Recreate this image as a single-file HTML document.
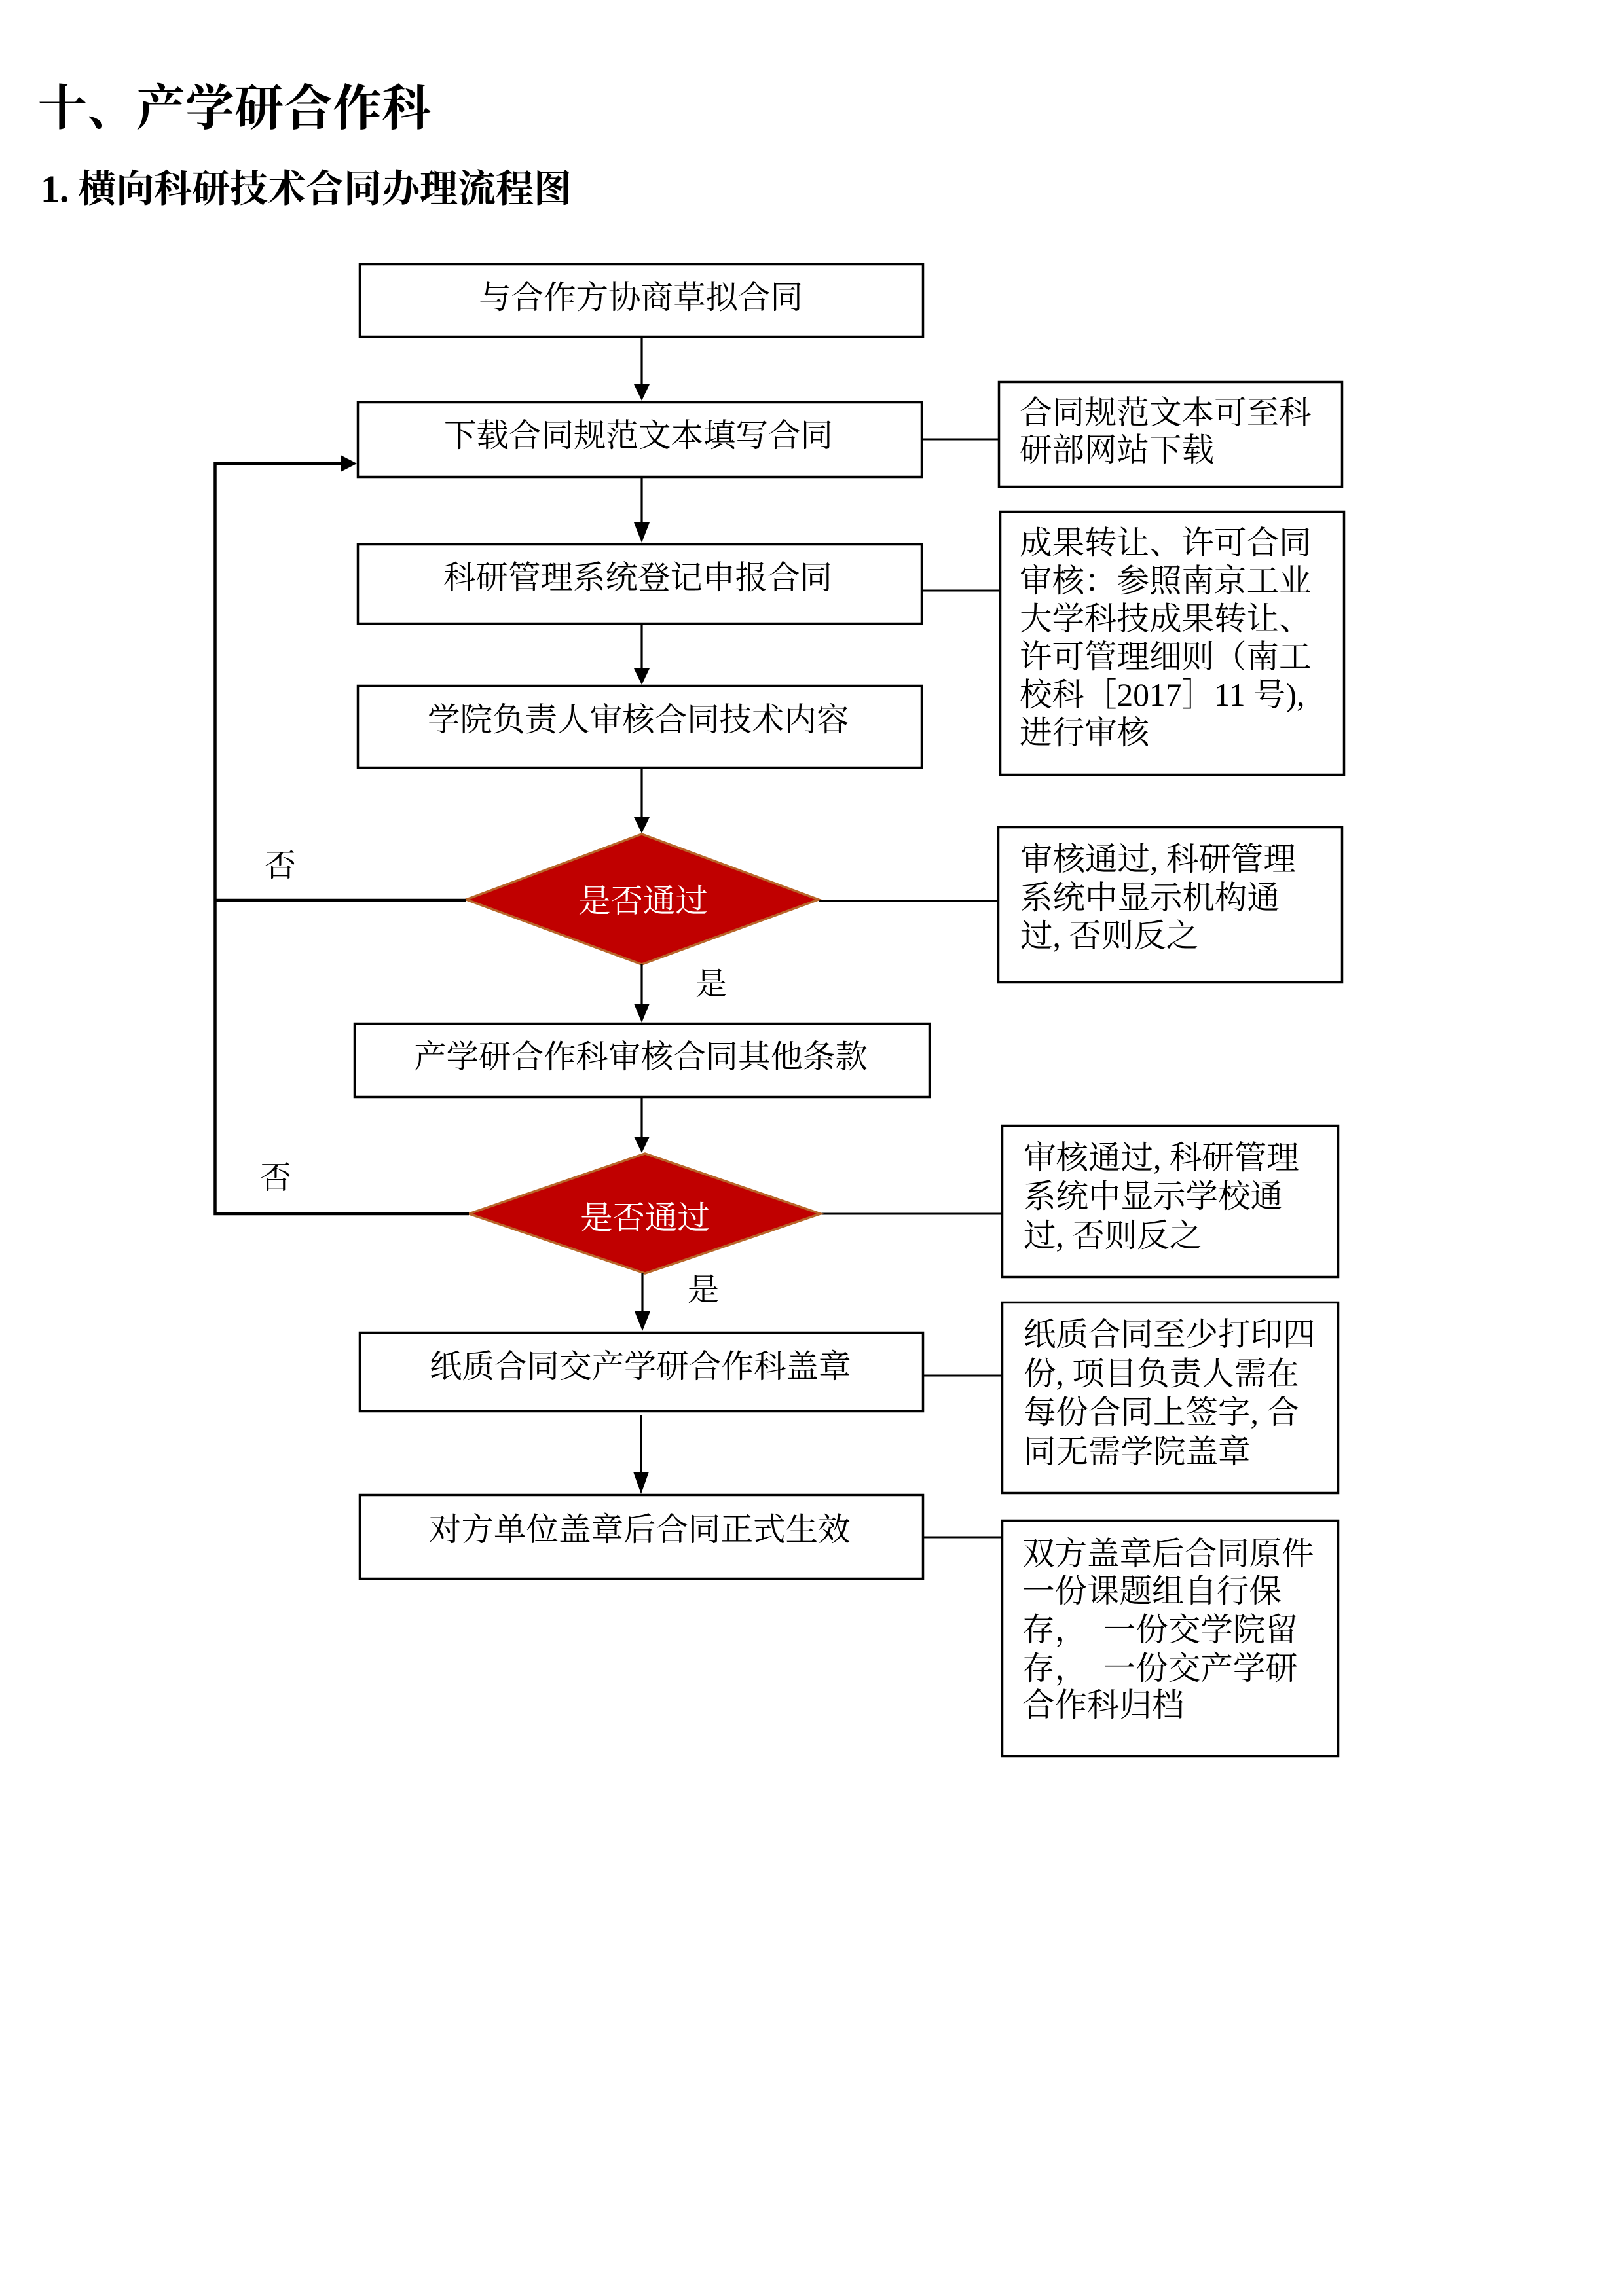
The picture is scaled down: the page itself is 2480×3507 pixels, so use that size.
<!DOCTYPE html>
<html>
<head>
<meta charset="utf-8">
<style>
  html, body { margin:0; padding:0; background:#ffffff; }
  body { width:2480px; height:3507px; overflow:hidden; }
  svg { display:block; }
  text { font-family: "Liberation Serif", "Noto Serif CJK SC", serif; fill:#000; }
</style>
</head>
<body>
<svg width="2480" height="3507" viewBox="0 0 2480 3507" xmlns="http://www.w3.org/2000/svg">
  <rect x="0" y="0" width="2480" height="3507" fill="#ffffff"/>

  <!-- Headings -->
  <text x="58" y="191" font-size="75" font-weight="700">十、产学研合作科</text>
  <text x="62" y="308" font-size="58" font-weight="700">1.</text>
  <text x="119" y="308" font-size="58" font-weight="700">横向科研技术合同办理流程图</text>

  <!-- Main boxes -->
  <g fill="#ffffff" stroke="#000" stroke-width="3.5">
    <rect x="549.5" y="403.5" width="860" height="111"/>
    <rect x="546.5" y="614.5" width="861" height="114"/>
    <rect x="546.5" y="831.5" width="861" height="121"/>
    <rect x="546.5" y="1047.5" width="861" height="125"/>
    <rect x="541.5" y="1563.5" width="878" height="112"/>
    <rect x="549.5" y="2035.5" width="860" height="120"/>
    <rect x="549.5" y="2283.5" width="860" height="128"/>
  </g>

  <!-- Side note boxes -->
  <g fill="#ffffff" stroke="#000" stroke-width="3.5">
    <rect x="1525.5" y="583.5" width="524" height="160"/>
    <rect x="1527.5" y="781.5" width="525" height="402"/>
    <rect x="1524.5" y="1263.5" width="525" height="237"/>
    <rect x="1530.5" y="1719.5" width="513" height="231"/>
    <rect x="1530.5" y="1989.5" width="513" height="291"/>
    <rect x="1530.5" y="2322.5" width="513" height="360"/>
  </g>

  <!-- Horizontal connectors to notes -->
  <g stroke="#000" stroke-width="3">
    <line x1="1409" y1="671" x2="1525" y2="671"/>
    <line x1="1409" y1="902" x2="1527" y2="902"/>
    <line x1="1250" y1="1376" x2="1524" y2="1376"/>
    <line x1="1253" y1="1854" x2="1530" y2="1854"/>
    <line x1="1411" y1="2101" x2="1530" y2="2101"/>
    <line x1="1411" y1="2348" x2="1530" y2="2348"/>
  </g>

  <!-- Diamonds -->
  <polygon points="980,1274 1250,1374 980,1473 712,1374" fill="#c00000" stroke="#b8662a" stroke-width="3.5"/>
  <polygon points="985,1762 1253,1854 985,1945 716,1854" fill="#c00000" stroke="#b8662a" stroke-width="3.5"/>

  <!-- Vertical arrows -->
  <g stroke="#000" stroke-width="3.2">
    <line x1="980" y1="516" x2="980" y2="592"/>
    <line x1="980" y1="730" x2="980" y2="805"/>
    <line x1="980" y1="954" x2="980" y2="1024"/>
    <line x1="980" y1="1174" x2="980" y2="1252"/>
    <line x1="980" y1="1473" x2="980" y2="1538"/>
    <line x1="980" y1="1677" x2="980" y2="1740"/>
    <line x1="981" y1="1945" x2="981" y2="2010"/>
    <line x1="979" y1="2161" x2="979" y2="2255"/>
  </g>
  <g fill="#000">
    <polygon points="968,587 992,587 980,612"/>
    <polygon points="968,798 992,798 980,829"/>
    <polygon points="968,1021 992,1021 980,1046"/>
    <polygon points="968,1248 992,1248 980,1273"/>
    <polygon points="968,1533 992,1533 980,1562"/>
    <polygon points="968,1736 992,1736 980,1761"/>
    <polygon points="969,2003 993,2003 981,2033"/>
    <polygon points="967,2248 991,2248 979,2282"/>
  </g>

  <!-- Loop-back lines -->
  <g stroke="#000" stroke-width="4.5" fill="none">
    <polyline points="712,1375 328.5,1375"/>
    <polyline points="716,1854 328.5,1854 328.5,708 522,708"/>
  </g>
  <polygon points="520,695 545,708 520,721" fill="#000"/>

  <!-- Main box text -->
  <g font-size="49.5">
    <text x="731" y="471">与合作方协商草拟合同</text>
    <text x="678" y="682">下载合同规范文本填写合同</text>
    <text x="677" y="899">科研管理系统登记申报合同</text>
    <text x="653" y="1116">学院负责人审核合同技术内容</text>
    <text x="632" y="1631">产学研合作科审核合同其他条款</text>
    <text x="656" y="2104">纸质合同交产学研合作科盖章</text>
    <text x="655" y="2353">对方单位盖章后合同正式生效</text>
  </g>

  <!-- Diamond text -->
  <g font-size="49.5" style="fill:#ffffff">
    <text x="883" y="1393" style="fill:#ffffff">是否通过</text>
    <text x="886" y="1877" style="fill:#ffffff">是否通过</text>
  </g>

  <!-- Yes/No labels -->
  <g font-size="48">
    <text x="404" y="1338">否</text>
    <text x="397" y="1815">否</text>
    <text x="1062" y="1519">是</text>
    <text x="1050" y="1986">是</text>
  </g>

  <!-- Side note text -->
  <g font-size="49.5">
    <text x="1557" y="647">合同规范文本可至科</text>
    <text x="1557" y="704">研部网站下载</text>

    <text x="1557" y="846">成果转让、许可合同</text>
    <text x="1557" y="904">审核：参照南京工业</text>
    <text x="1557" y="962">大学科技成果转让、</text>
    <text x="1557" y="1020">许可管理细则（南工</text>
    <text x="1557" y="1078">校科［2017］11 号),</text>
    <text x="1557" y="1136">进行审核</text>

    <text x="1558" y="1329">审核通过, 科研管理</text>
    <text x="1558" y="1388">系统中显示机构通</text>
    <text x="1558" y="1446">过, 否则反之</text>

    <text x="1563" y="1785">审核通过, 科研管理</text>
    <text x="1563" y="1844">系统中显示学校通</text>
    <text x="1563" y="1904">过, 否则反之</text>

    <text x="1563" y="2055">纸质合同至少打印四</text>
    <text x="1563" y="2115">份, 项目负责人需在</text>
    <text x="1563" y="2174">每份合同上签字, 合</text>
    <text x="1563" y="2234">同无需学院盖章</text>

    <text x="1561" y="2390">双方盖章后合同原件</text>
    <text x="1561" y="2447">一份课题组自行保</text>
    <text x="1561" y="2506">存，&#160;&#160;一份交学院留</text>
    <text x="1561" y="2565">存，&#160;&#160;一份交产学研</text>
    <text x="1561" y="2621">合作科归档</text>
  </g>
</svg>
</body>
</html>
